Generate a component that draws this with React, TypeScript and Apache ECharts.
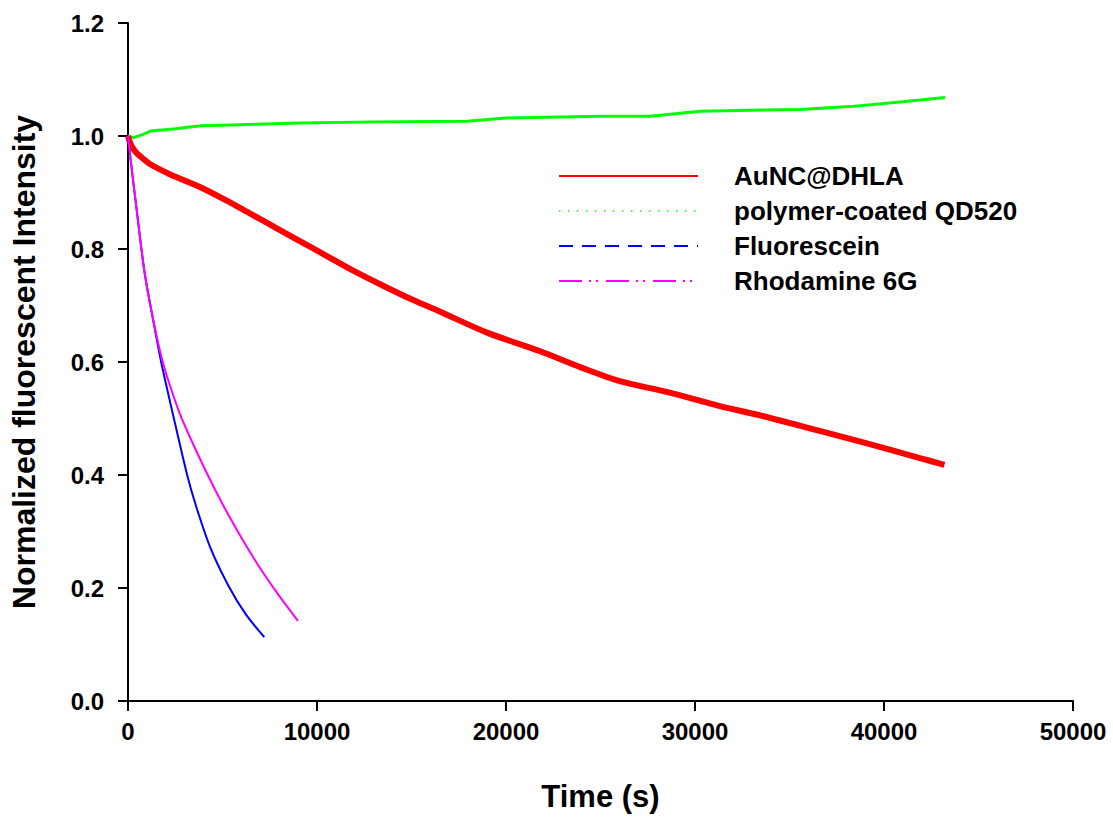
import React, { useEffect, useRef } from "react";
import * as echarts from "echarts";

// Time (s) / normalized intensity pairs
const auncTime = [0, 150, 400, 650, 1180, 2240, 3860, 5200, 6500, 7800, 9140, 10500, 11790, 13500, 15000, 16520, 19000, 21810, 24000, 26030, 28500, 31320, 33500, 36600, 39000, 41900, 43200];
const auncValue = [1.0, 0.985, 0.972, 0.964, 0.95, 0.932, 0.909, 0.886, 0.862, 0.838, 0.813, 0.788, 0.764, 0.735, 0.711, 0.689, 0.652, 0.619, 0.59, 0.566, 0.547, 0.522, 0.505, 0.478, 0.457, 0.43, 0.418];

const qdTime = [0, 300, 800, 1215, 2500, 3860, 6000, 9120, 13000, 17930, 20000, 24990, 27630, 30280, 35560, 38200, 40850, 43230];
const qdValue = [1.0, 0.997, 1.003, 1.009, 1.013, 1.018, 1.02, 1.023, 1.025, 1.026, 1.032, 1.035, 1.035, 1.044, 1.047, 1.052, 1.06, 1.068];

const fluoTime = [0, 150, 450, 870, 1300, 1755, 2340, 3130, 3620, 4350, 5300, 6200, 7210];
const fluoValue = [1.0, 0.955, 0.872, 0.76, 0.68, 0.6, 0.513, 0.4, 0.343, 0.272, 0.205, 0.155, 0.113];

const rhoTime = [0, 150, 450, 870, 1300, 1840, 2690, 3400, 4220, 4980, 5570, 6300, 7170, 8000, 8990];
const rhoValue = [1.0, 0.955, 0.872, 0.76, 0.68, 0.6, 0.513, 0.458, 0.4, 0.35, 0.314, 0.272, 0.226, 0.186, 0.142];

const seriesNames = ["AuNC@DHLA", "polymer-coated QD520", "Fluorescein", "Rhodamine 6G"];
const xTicks = [0, 10000, 20000, 30000, 40000, 50000];
const yTicks = [0.0, 0.2, 0.4, 0.6, 0.8, 1.0, 1.2];

const zip = (xs: number[], ys: number[]) => xs.map((x, i) => [x, ys[i]]);

const FONT = "'Liberation Sans', Arial, Helvetica, sans-serif";

export default function App() {
  const ref = useRef<HTMLDivElement>(null);
  useEffect(() => {
    if (!ref.current) return;
    const chart = echarts.init(ref.current, undefined, { renderer: "svg" });
    const axisCommon = {
      axisLine: { show: true, lineStyle: { color: "#000", width: 2 } },
      axisTick: { show: true, inside: false, length: 10, lineStyle: { color: "#000", width: 2 } },
      splitLine: { show: false },
      nameLocation: "middle" as const,
      nameTextStyle: { fontFamily: FONT, fontWeight: "bold", fontSize: 31, color: "#000" },
    };
    const noSymbol = { opacity: 0 };
    chart.setOption({
      animation: false,
      backgroundColor: "#fff",
      grid: { left: 127, right: 40, top: 23, bottom: 112, containLabel: false },
      xAxis: {
        type: "value",
        min: xTicks[0],
        max: xTicks[xTicks.length - 1],
        interval: 10000,
        name: "Time (s)",
        nameGap: 80,
        ...axisCommon,
        axisLabel: {
          fontFamily: FONT,
          fontWeight: "bold",
          fontSize: 24,
          color: "#000",
          margin: 18,
          formatter: (v: number) => String(v),
        },
      },
      yAxis: {
        type: "value",
        min: yTicks[0],
        max: yTicks[yTicks.length - 1],
        interval: 0.2,
        name: "Normalized fluorescent Intensity",
        nameGap: 88,
        ...axisCommon,
        nameTextStyle: { fontFamily: FONT, fontWeight: "bold", fontSize: 32, color: "#000" },
        axisLabel: {
          fontFamily: FONT,
          fontWeight: "bold",
          fontSize: 24,
          color: "#000",
          margin: 24,
          formatter: (v: number) => v.toFixed(1),
        },
      },
      legend: {
        orient: "vertical",
        left: 553,
        top: 158,
        itemWidth: 139,
        itemHeight: 14,
        itemGap: 9,
        selectedMode: false,
        itemStyle: noSymbol,
        textStyle: {
          fontFamily: FONT,
          fontWeight: "bold",
          fontSize: 26,
          color: "#000",
          padding: [0, 0, 0, 31],
        },
        data: [
          { name: seriesNames[0], itemStyle: noSymbol, lineStyle: { color: "#ff0000", width: 2, type: "solid" } },
          { name: seriesNames[1], itemStyle: noSymbol, lineStyle: { color: "#00ff00", width: 1.5, type: [1.5, 7.5] } },
          { name: seriesNames[2], itemStyle: noSymbol, lineStyle: { color: "#0000ff", width: 2, type: [14, 9] } },
          { name: seriesNames[3], itemStyle: noSymbol, lineStyle: { color: "#ff00ff", width: 2, type: [23, 7, 2, 5, 2, 8] } },
        ],
      },
      series: [
        {
          name: seriesNames[0],
          type: "line",
          data: zip(auncTime, auncValue),
          showSymbol: false,
          symbol: "none",
          smooth: 0.3,
          color: "#ff0000",
          lineStyle: { color: "#ff0000", width: 6 },
          z: 3,
        },
        {
          name: seriesNames[1],
          type: "line",
          data: zip(qdTime, qdValue),
          showSymbol: false,
          symbol: "none",
          color: "#00ff00",
          lineStyle: { color: "#00ff00", width: 3 },
          z: 2,
        },
        {
          name: seriesNames[2],
          type: "line",
          data: zip(fluoTime, fluoValue),
          showSymbol: false,
          symbol: "none",
          smooth: 0.3,
          color: "#0000ff",
          lineStyle: { color: "#0000ff", width: 2 },
          z: 4,
        },
        {
          name: seriesNames[3],
          type: "line",
          data: zip(rhoTime, rhoValue),
          showSymbol: false,
          symbol: "none",
          smooth: 0.3,
          color: "#ff00ff",
          lineStyle: { color: "#ff00ff", width: 2 },
          z: 4,
        },
      ],
    });
    return () => chart.dispose();
  }, []);
  return (
    <div
      ref={ref}
      style={{ position: "fixed", left: 0, top: 0, width: 1113, height: 817, background: "#fff" }}
    />
  );
}
